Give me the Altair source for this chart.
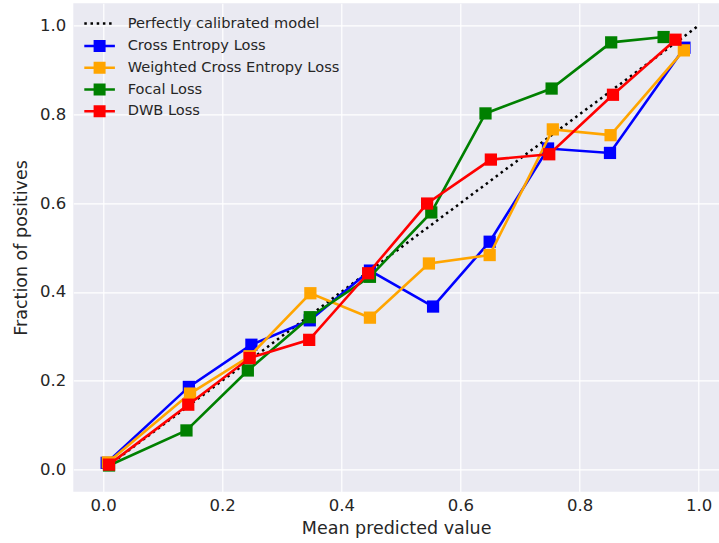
import altair as alt
import pandas as pd

# ---- data ----
series_names = ["Cross Entropy Loss", "Weighted Cross Entropy Loss", "Focal Loss", "DWB Loss"]
series_colors = ["#0000ff", "#ffa500", "#008000", "#ff0000"]
diag_name = "Perfectly calibrated model"

ce_x = [0.006, 0.144, 0.249, 0.347, 0.448, 0.554, 0.649, 0.747, 0.851, 0.976]
ce_y = [0.015, 0.186, 0.281, 0.336, 0.448, 0.367, 0.513, 0.723, 0.713, 0.950]

wce_x = [0.008, 0.146, 0.246, 0.348, 0.448, 0.547, 0.649, 0.755, 0.852, 0.975]
wce_y = [0.016, 0.171, 0.255, 0.397, 0.342, 0.464, 0.483, 0.766, 0.753, 0.944]

focal_x = [0.010, 0.140, 0.243, 0.347, 0.448, 0.551, 0.642, 0.753, 0.853, 0.941]
focal_y = [0.009, 0.088, 0.223, 0.343, 0.434, 0.579, 0.802, 0.858, 0.962, 0.974]

dwb_x = [0.010, 0.143, 0.246, 0.346, 0.445, 0.544, 0.651, 0.749, 0.856, 0.961]
dwb_y = [0.011, 0.146, 0.251, 0.292, 0.442, 0.599, 0.698, 0.710, 0.844, 0.968]

diag_x = [0.0, 1.0]
diag_y = [0.0, 1.0]

tick_values = [0.0, 0.2, 0.4, 0.6, 0.8, 1.0]

all_x = [ce_x, wce_x, focal_x, dwb_x]
all_y = [ce_y, wce_y, focal_y, dwb_y]

FONT = "DejaVu Sans"
TXT = "#262626"

x_scale = alt.Scale(domain=[-0.05, 1.034], nice=False, zero=False)
y_scale = alt.Scale(domain=[-0.05, 1.05], nice=False, zero=False)

x_enc = alt.X("x:Q", scale=x_scale,
              axis=alt.Axis(values=tick_values, format=".1f", title="Mean predicted value"))
y_enc = alt.Y("y:Q", scale=y_scale,
              axis=alt.Axis(values=tick_values, format=".1f", title="Fraction of positives"))

U = 5.0  # path units -> px for symbolSize 100
half_line = 15.3 / U
half_sq = 4.75 / U
legend_path = f"M-{half_line:.3f},0H{half_line:.3f}M-{half_sq:.3f},-{half_sq:.3f}H{half_sq:.3f}V{half_sq:.3f}H-{half_sq:.3f}Z"
dash_path = f"M-{half_line:.3f},0H{half_line:.3f}"

LX = 19.0
LFS = 14.6
color_legend = alt.Legend(
    title=None, orient="none", legendX=LX, legendY=35.5,
    symbolType=legend_path, symbolSize=100, symbolStrokeWidth=2.5,
    labelFont=FONT, labelFontSize=LFS, labelColor=TXT, labelOffset=20.75,
    labelLimit=0, rowPadding=0.7, padding=0,
)
dash_legend = alt.Legend(
    title=None, orient="none", legendX=LX, legendY=13.0,
    symbolType=dash_path, symbolSize=100, symbolStrokeWidth=2.5,
    symbolStrokeColor="black",
    labelFont=FONT, labelFontSize=LFS, labelColor=TXT, labelOffset=20.75,
    labelLimit=0, padding=0,
)

stroke_scale = alt.Scale(domain=series_names, range=series_colors)

diag_df = pd.DataFrame({"x": diag_x, "y": diag_y, "name": [diag_name] * len(diag_x)})
diag = alt.Chart(diag_df).mark_line(color="black", strokeWidth=2.5, strokeCap="butt").encode(
    x=x_enc, y=y_enc,
    strokeDash=alt.StrokeDash("name:N",
                              scale=alt.Scale(domain=[diag_name], range=[[2.5, 3.7]]),
                              legend=dash_legend),
)

layers = [diag]
for name, xs, ys in zip(series_names, all_x, all_y):
    df = pd.DataFrame({"x": xs, "y": ys, "series": [name] * len(xs), "i": list(range(len(xs)))})
    line = alt.Chart(df).mark_line(strokeWidth=2.6).encode(
        x=x_enc, y=y_enc, order="i:Q",
        stroke=alt.Stroke("series:N", scale=stroke_scale, legend=color_legend),
    )
    pts = alt.Chart(df).mark_point(shape="square", filled=True, size=150, opacity=1,
                                   strokeWidth=1).encode(
        x=x_enc, y=y_enc,
        fill=alt.Fill("series:N", scale=stroke_scale, legend=color_legend),
    )
    layers += [line, pts]

chart = alt.layer(*layers).properties(
    width=645.7, height=488.4,
    background="white",
    autosize=alt.AutoSizeParams(type="none"),
    padding={"left": 73.3, "top": 3.3, "right": 0, "bottom": 51.3},
).configure_view(
    fill="#EAEAF2", stroke=None,
).configure_axis(
    grid=True, gridColor="white", gridWidth=1.2, domain=False, ticks=False,
    labelFont=FONT, labelFontSize=16.5, labelColor=TXT,
    titleFont=FONT, titleFontSize=17.5, titleColor=TXT, titleFontWeight="normal",
).configure_axisX(
    labelPadding=6, titlePadding=5,
).configure_axisY(
    labelPadding=7.6, titlePadding=9,
)

chart.save("out.html", embed_options={"renderer": "svg", "actions": False})
